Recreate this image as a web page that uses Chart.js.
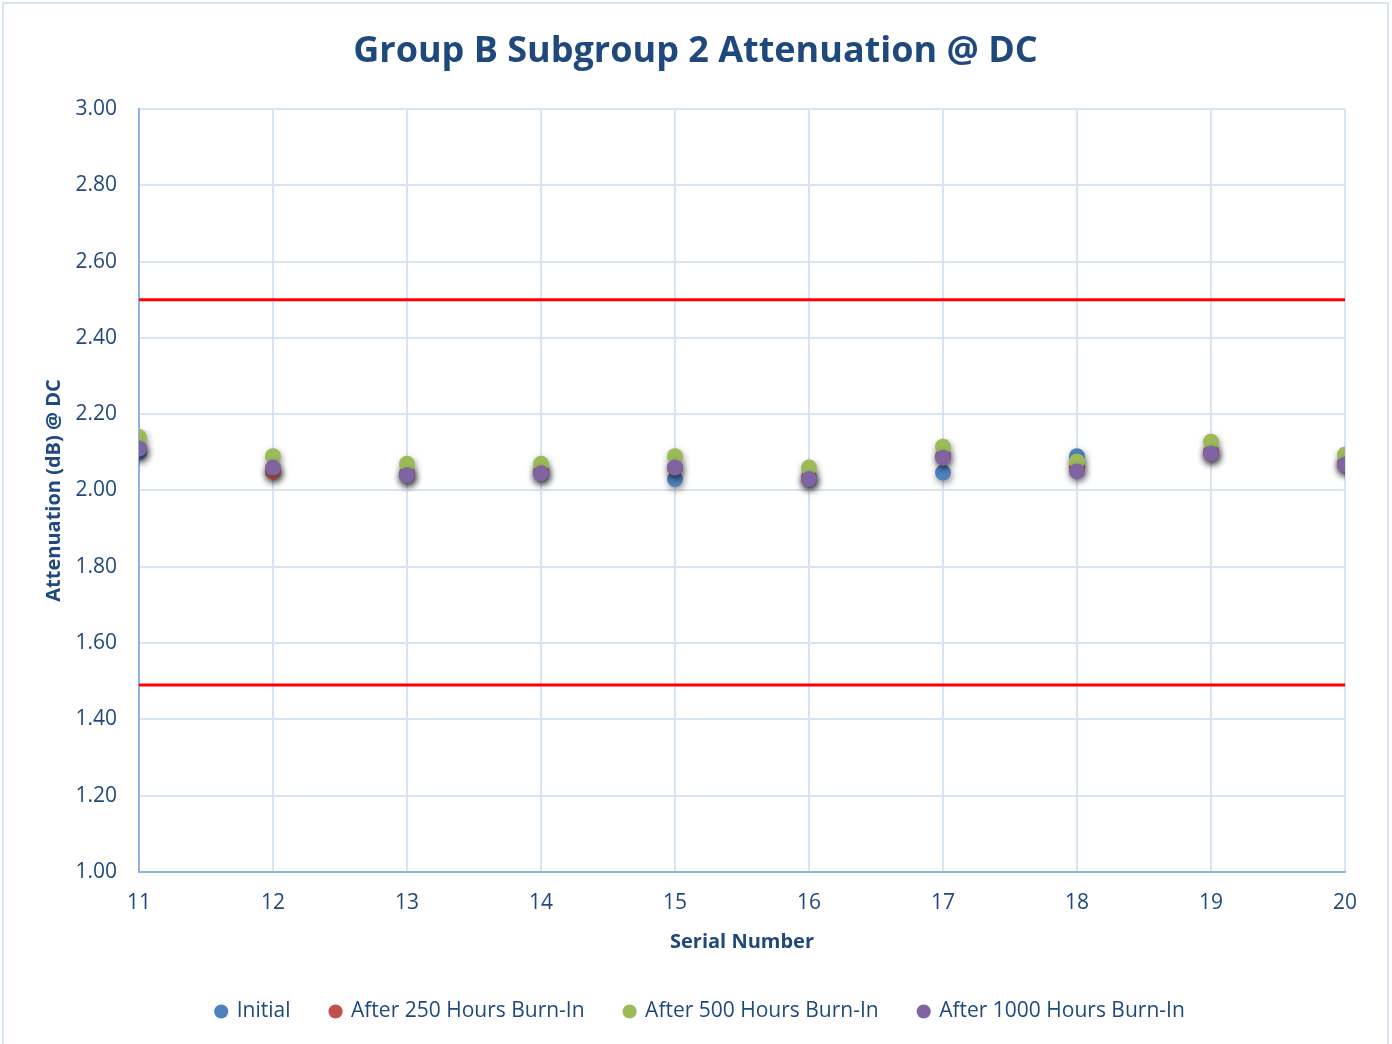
<!DOCTYPE html>
<html>
<head>
<meta charset="utf-8">
<script src="https://cdn.jsdelivr.net/npm/chart.js@4.4.0/dist/chart.umd.min.js"></script>
<style>
html,body{margin:0;padding:0;background:#fff;}
#wrap{width:1392px;height:1044px;position:relative;}
</style>
</head>
<body>
<div id="wrap"><canvas id="c" width="1392" height="1044"></canvas></div>
<script>
const serialNumbers = [11, 12, 13, 14, 15, 16, 17, 18, 19, 20];
const initial      = [2.10, 2.05, 2.04, 2.045, 2.03, 2.03, 2.047, 2.09, 2.10, 2.07];
const after250     = [2.11, 2.05, 2.045, 2.05, 2.06, 2.035, 2.09, 2.06, 2.10, 2.07];
const after500     = [2.14, 2.09, 2.07, 2.07, 2.09, 2.06, 2.115, 2.076, 2.128, 2.094];
const after1000    = [2.11, 2.06, 2.04, 2.045, 2.06, 2.03, 2.086, 2.05, 2.097, 2.068];
const upperLimit = 2.50;
const lowerLimit = 1.49;
const seriesNames = ['Initial', 'After 250 Hours Burn-In', 'After 500 Hours Burn-In', 'After 1000 Hours Burn-In'];
const yTicks = [1.00, 1.20, 1.40, 1.60, 1.80, 2.00, 2.20, 2.40, 2.60, 2.80, 3.00];

const colors = ['#4f81bd', '#c0504d', '#9bbb59', '#8064a2'];
const seriesValues = [initial, after250, after500, after1000];
const textColor = '#1f497d';
const FONT = "'Open Sans', sans-serif";

const datasets = seriesValues.map((vals, i) => ({
  label: seriesNames[i],
  data: serialNumbers.map((x, j) => ({x: x, y: vals[j]})),
  backgroundColor: colors[i],
  borderColor: colors[i],
  pointRadius: 8,
  pointHoverRadius: 8,
  borderWidth: 0,
  showLine: false,
  order: 4 - i,
  isSeries: true
}));
[upperLimit, lowerLimit].forEach((v, k) => {
  datasets.push({
    label: 'limit' + k,
    data: [{x: serialNumbers[0], y: v}, {x: serialNumbers[serialNumbers.length - 1], y: v}],
    borderColor: '#ff0000',
    backgroundColor: '#ff0000',
    borderWidth: 3,
    pointRadius: 0,
    showLine: true,
    order: 10,
    isLimit: true
  });
});

const shadowPlugin = {
  id: 'shadow',
  beforeDatasetDraw(chart, args) {
    const ds = chart.data.datasets[args.index];
    if (ds.isSeries) {
      const ctx = chart.ctx;
      ctx.save();
      ctx.shadowColor = 'rgba(0,0,0,0.45)';
      ctx.shadowBlur = 7;
      ctx.shadowOffsetX = 1;
      ctx.shadowOffsetY = 3;
    }
  },
  afterDatasetDraw(chart, args) {
    const ds = chart.data.datasets[args.index];
    if (ds.isSeries) chart.ctx.restore();
  }
};
const framePlugin = {
  id: 'frame',
  beforeDraw(chart) {
    const ctx = chart.ctx;
    ctx.save();
    ctx.fillStyle = '#fff';
    ctx.fillRect(0, 0, chart.width, chart.height);
    ctx.strokeStyle = '#d9e3f0';
    ctx.lineWidth = 2;
    ctx.strokeRect(3, 3, 1385, 1050);
    ctx.restore();
  }
};
const shiftPlugin = {
  id: 'shiftBlocks',
  afterLayout(chart) {
    if (chart.legend) { chart.legend.left += 7; chart.legend.right += 7; }
    if (chart.titleBlock) { chart.titleBlock.left += 2; chart.titleBlock.right += 2; }
  }
};

new Chart(document.getElementById('c'), {
  type: 'scatter',
  data: { datasets },
  plugins: [framePlugin, shadowPlugin, shiftPlugin],
  options: {
    responsive: false,
    animation: false,
    devicePixelRatio: 1,
    layout: { padding: { left: 42, right: 47, top: 20, bottom: 12 } },
    plugins: {
      tooltip: { enabled: false },
      title: {
        display: true,
        text: 'Group B Subgroup 2 Attenuation @ DC',
        color: textColor,
        font: { family: FONT, size: 36, weight: 'bold' },
        padding: { top: 10, bottom: 36 }
      },
      legend: {
        position: 'bottom',
        labels: {
          color: textColor,
          font: { family: FONT, size: 21 },
          usePointStyle: true,
          pointStyle: 'circle',
          boxWidth: 10,
          boxHeight: 10,
          padding: 40,
          filter: (item, data) => !data.datasets[item.datasetIndex].isLimit,
          sort: (a, b) => a.datasetIndex - b.datasetIndex
        }
      }
    },
    scales: {
      x: {
        type: 'linear',
        min: 11,
        max: 20,
        ticks: {
          stepSize: 1,
          color: textColor,
          font: { family: FONT, size: 21 },
          padding: 19
        },
        grid: { color: '#d9e4f2', lineWidth: 2, drawTicks: false },
        border: { color: '#8db3e2', width: 2 },
        title: {
          display: true,
          text: 'Serial Number',
          color: textColor,
          font: { family: FONT, size: 20, weight: 'bold' },
          padding: { top: -5, bottom: 7 }
        }
      },
      y: {
        min: 1,
        max: 3,
        afterBuildTicks: (scale) => { scale.ticks = yTicks.map(v => ({ value: v })); },
        afterFit: (scale) => { scale.width = 97; },
        ticks: {
          color: textColor,
          font: { family: FONT, size: 21 },
          padding: 22,
          callback: (v) => Number(v).toFixed(2)
        },
        grid: { color: '#d9e4f2', lineWidth: 2, drawTicks: false },
        border: { color: '#8db3e2', width: 2 },
        title: {
          display: true,
          text: 'Attenuation (dB) @ DC',
          color: textColor,
          font: { family: FONT, size: 20, weight: 'bold' },
          padding: { top: 0, bottom: 6 }
        }
      }
    }
  }
});
</script>
</body>
</html>
